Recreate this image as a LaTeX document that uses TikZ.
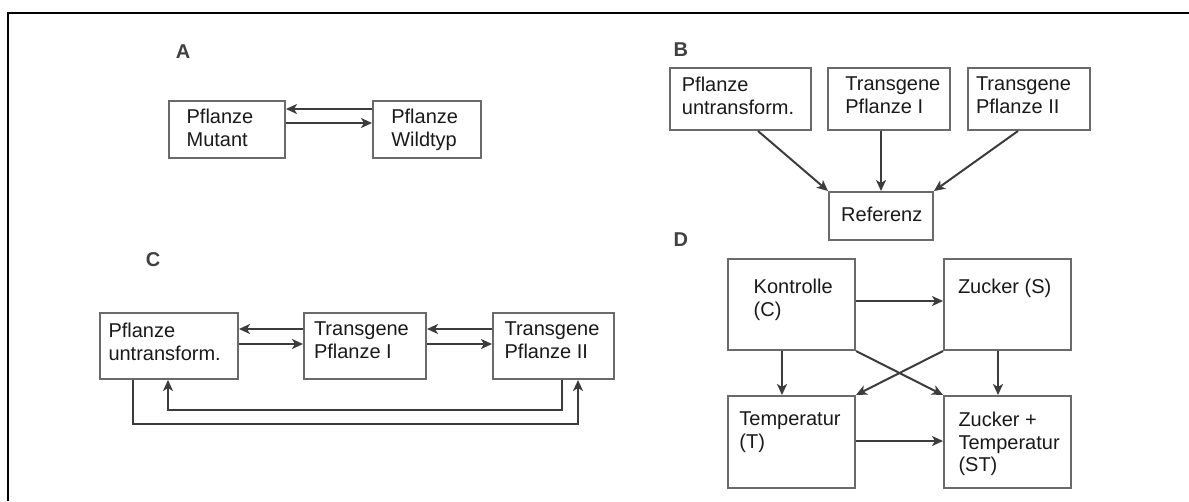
\documentclass[tikz,border=0pt]{standalone}
\usepackage{fontspec}
\setmainfont{Liberation Sans}
\usetikzlibrary{arrows.meta,calc}
\definecolor{boxgray}{HTML}{6A6A6A}
\definecolor{arrgray}{HTML}{3C3C3C}
\definecolor{txtcol}{HTML}{1A1A1A}
\begin{document}
\begin{tikzpicture}[x=1pt,y=-1pt,
  box/.style={draw=boxgray,line width=2pt,fill=white,inner sep=0pt,anchor=north west},
  txt/.style={anchor=north west,inner sep=0pt,align=left,text=txtcol,font=\fontsize{20}{22.8}\selectfont},
  plabel/.style={font=\fontsize{20}{22}\selectfont\bfseries,text=black!75},
  arr/.style={draw=arrgray,line width=2pt,-{Stealth[length=11pt,width=10pt,inset=3pt]}},
  frame/.style={draw=black,line width=2pt}]
\useasboundingbox (0,0) rectangle (1189,501);
\fill[white] (0,0) rectangle (1189,501);
% frame (top and left edges)
\draw[frame] (8,501) -- (8,13) -- (1189,13);

% ---------- Panel A ----------
\node[plabel] (lA) at (183,51.7) {A};
\node[box,minimum width=116pt,minimum height=57pt] (mut) at (168,100) {};
\node[box,minimum width=108pt,minimum height=57pt] (wt) at (372,100) {};
\node[txt] (tmut) at (186.4,109.3) {Pflanze\\Mutant};
\node[txt] (twt) at (391.1,109.3) {Pflanze\\Wildtyp};
\coordinate (yA1) at (0,109);
\coordinate (yA2) at (0,123);
\draw[arr] (wt.west |- yA1) -- (mut.east |- yA1);
\draw[arr] (mut.east |- yA2) -- (wt.west |- yA2);

% ---------- Panel B ----------
\node[plabel] (lB) at (680.9,50) {B};
\node[box,minimum width=141pt,minimum height=62pt] (b1) at (669,67) {};
\node[box,minimum width=122pt,minimum height=62pt] (b2) at (827,67) {};
\node[box,minimum width=122pt,minimum height=62pt] (b3) at (967,67) {};
\node[box,minimum width=104pt,minimum height=48pt] (ref) at (828,191) {};
\node[txt] (tb1) at (681.7,77) {Pflanze\\untransform.};
\node[txt] (tb2) at (845.2,77) {Transgene\\Pflanze I};
\node[txt] (tb3) at (975.8,77) {Transgene\\Pflanze II};
\node[txt] (tref) at (841,206.7) {Referenz};
\coordinate (xB1) at (758,0);
\coordinate (xB3) at (1018,0);
\draw[arr] (b1.south -| xB1) -- (ref.north west);
\draw[arr] (b2.south -| ref.north) -- (ref.north);
\draw[arr] (b3.south -| xB3) -- (ref.north east);

% ---------- Panel C ----------
\node[plabel] (lC) at (153,260) {C};
\node[box,minimum width=138pt,minimum height=66pt] (c1) at (99,312) {};
\node[box,minimum width=122pt,minimum height=66pt] (c2) at (303,312) {};
\node[box,minimum width=121pt,minimum height=66pt] (c3) at (492,312) {};
\node[txt] (tc1) at (108.3,322.7) {Pflanze\\untransform.};
\node[txt] (tc2) at (313.8,321.7) {Transgene\\Pflanze I};
\node[txt] (tc3) at (504.4,321.7) {Transgene\\Pflanze II};
\coordinate (yC1) at (0,329);
\coordinate (yC2) at (0,344);
\draw[arr] (c2.west |- yC1) -- (c1.east |- yC1);
\draw[arr] (c1.east |- yC2) -- (c2.west |- yC2);
\draw[arr] (c3.west |- yC1) -- (c2.east |- yC1);
\draw[arr] (c2.east |- yC2) -- (c3.west |- yC2);
\coordinate (xCi1) at (168,0);
\coordinate (xCi3) at (562,0);
\coordinate (yCi) at (0,410);
\coordinate (xCo1) at (133,0);
\coordinate (xCo3) at (578,0);
\coordinate (yCo) at (0,424);
\draw[arr] (c3.south -| xCi3) |- (xCi1 |- yCi) -- (c1.south -| xCi1);
\draw[arr] (c1.south -| xCo1) |- (xCo3 |- yCo) -- (c3.south -| xCo3);

% ---------- Panel D ----------
\node[plabel] (lD) at (680.9,240) {D};
\node[box,minimum width=127pt,minimum height=91pt] (dc) at (727,258) {};
\node[box,minimum width=127pt,minimum height=91pt] (ds) at (943,258) {};
\node[box,minimum width=127pt,minimum height=92pt] (dt) at (727,395) {};
\node[box,minimum width=127pt,minimum height=92pt] (dst) at (943,395) {};
\node[txt] (tdc) at (753.5,279.3) {Kontrolle\\(C)};
\node[txt] (tds) at (957.8,279.3) {Zucker (S)};
\node[txt] (tdt) at (739.2,411.7) {Temperatur\\(T)};
\node[txt] (tdst) at (958.3,411.7) {Zucker +\\Temperatur\\(ST)};
\coordinate (yD1) at (0,301);
\coordinate (yD2) at (0,441);
\coordinate (xD1) at (782,0);
\coordinate (xD2) at (998,0);
\draw[arr] (dc.east |- yD1) -- (ds.west |- yD1);
\draw[arr] (dt.east |- yD2) -- (dst.west |- yD2);
\draw[arr] (dc.south -| xD1) -- (dt.north -| xD1);
\draw[arr] (ds.south -| xD2) -- (dst.north -| xD2);
\draw[arr] (dc.south east) -- (dst.north west);
\draw[arr] (ds.south west) -- (dt.north east);
\end{tikzpicture}
\end{document}
